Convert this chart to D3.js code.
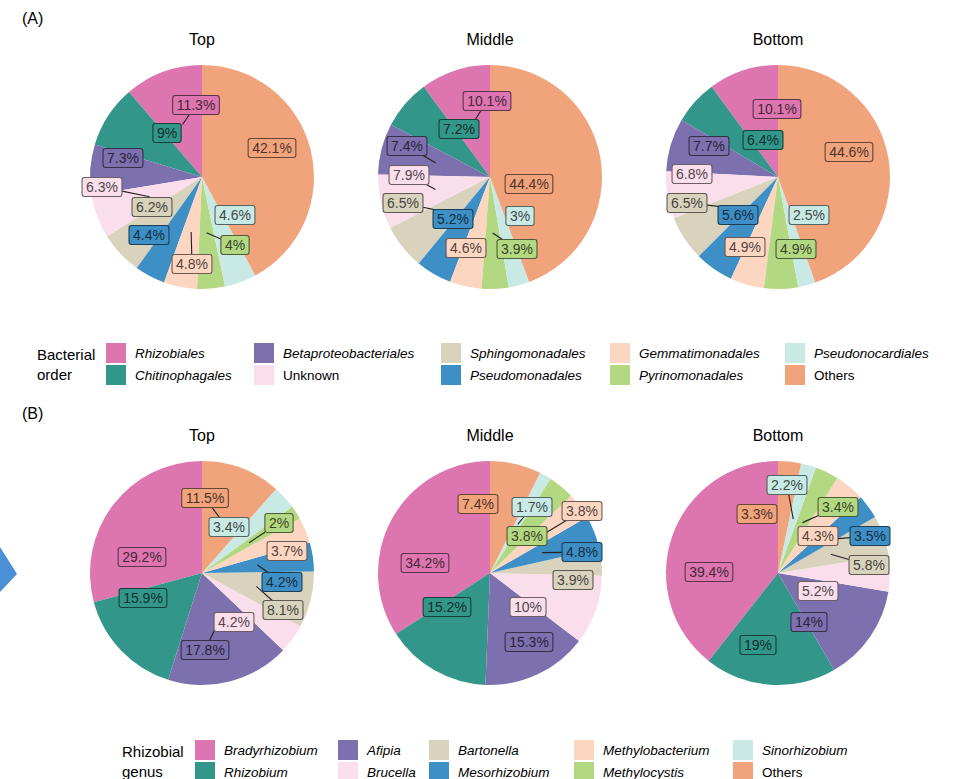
<html>

<head>
    <script src="https://d3js.org/d3.v7.min.js"></script>
    <style>
        body {
            margin: 0;
            background: #fff;
        }

        text {
            font-family: "Liberation Sans", Arial, sans-serif;
        }
    </style>
</head>

<body>
    <svg height="779" width="954" id="pieSvg"></svg>
    <script>
        // categories
        const orders = ["Rhizobiales", "Chitinophagales", "Betaproteobacteriales", "Unknown", "Sphingomonadales",
            "Pseudomonadales", "Gemmatimonadales", "Pyrinomonadales", "Pseudonocardiales", "Others"];
        const genera = ["Bradyrhizobium", "Rhizobium", "Afipia", "Brucella", "Bartonella",
            "Mesorhizobium", "Methylobacterium", "Methylocystis", "Sinorhizobium", "Others"];
        const positions = ["Top", "Middle", "Bottom"];

        // percentages, same order as categories
        const orderTop = [11.3, 9, 7.3, 6.3, 6.2, 4.4, 4.8, 4, 4.6, 42.1];
        const orderMiddle = [10.1, 7.2, 7.4, 7.9, 6.5, 5.2, 4.6, 3.9, 3, 44.4];
        const orderBottom = [10.1, 6.4, 7.7, 6.8, 6.5, 5.6, 4.9, 4.9, 2.5, 44.6];
        const genusTop = [29.2, 15.9, 17.8, 4.2, 8.1, 4.2, 3.7, 2, 3.4, 11.5];
        const genusMiddle = [34.2, 15.2, 15.3, 10, 3.9, 4.8, 3.8, 3.8, 1.7, 7.4];
        const genusBottom = [39.4, 19, 14, 5.2, 5.8, 3.5, 4.3, 3.4, 2.2, 3.3];

        const palette = ["#dd76b0", "#33968a", "#7d70ae", "#fbdeec", "#d9d3bd",
            "#3d8fc6", "#fdd6c2", "#b3d882", "#c8e9e4", "#f1a37c"];

        // repelled label placement (px offset from pie centre)
        const orderNudge = [
            [[-6, -72], [-35, -44], [-79, -19], [-100, 10], [-50, 30], [-53, 58], [-10, 87], [33, 68], [33, 38], [70, -29]],
            [[-3, -76], [-31, -48], [-83, -31], [-81, -2], [-87, 26], [-37, 42], [-24, 71], [27, 72], [30, 39], [39, 7]],
            [[-1, -68], [-15, -37], [-69, -31], [-86, -3], [-91, 26], [-40, 38], [-33, 70], [18, 72], [31, 38], [71, -25]]
        ];
        const genusNudge = [
            [[-60, -16], [-59, 25], [3, 77], [32, 49], [81, 37], [80, 9], [85, -22], [77, -50], [27, -46], [3, -75]],
            [[-65, -10], [-43, 34], [39, 69], [38, 34], [83, 7], [92, -21], [92, -62], [37, -37], [42, -66], [-12, -69]],
            [[-69, -1], [-20, 72], [31, 49], [40, 18], [91, -8], [92, -37], [40, -37], [60, -66], [9, -88], [-21, -59]]
        ];
        // which repelled labels keep a leader segment
        const orderSegments = [
            [1, 0, 0, 1, 0, 0, 1, 1, 0, 0],
            [1, 0, 1, 1, 1, 0, 0, 1, 0, 0],
            [0, 0, 0, 0, 1, 0, 0, 0, 0, 0]
        ];
        const genusSegments = [
            [0, 0, 1, 0, 1, 1, 0, 1, 0, 1],
            [0, 0, 0, 0, 0, 1, 1, 0, 1, 0],
            [0, 0, 0, 0, 1, 1, 0, 1, 1, 0]
        ];

        const svg = d3.select("#pieSvg");
        const radius = 112;
        const xScale = d3.scalePoint().domain(positions).range([202, 778]);

        const pie = d3.pie().sort(null).startAngle(0).endAngle(-2 * Math.PI);
        const arc = d3.arc().innerRadius(0).outerRadius(radius);
        const anchorArc = d3.arc().innerRadius(radius * 0.5).outerRadius(radius * 0.5);

        function drawPanel(cats, seriesList, nudges, segs, cy, letter, letterY, legendTitle, legendY, legendCols) {
            const colour = d3.scaleOrdinal().domain(cats).range(palette);

            svg.append("text")
                .attr("x", 22)
                .attr("y", letterY)
                .style("font-size", "16px")
                .text(letter);

            seriesList.forEach((values, i) => {
                const cx = xScale(positions[i]);
                const data = cats.map((c, j) => ({ cat: c, value: values[j] }));
                const g = svg.append("g").attr("transform", `translate(${cx},${cy})`);

                svg.append("text")
                    .attr("x", cx)
                    .attr("y", cy - 132)
                    .attr("text-anchor", "middle")
                    .style("font-size", "16px")
                    .text(positions[i]);

                const arcs = pie.value(d => d.value)(data);
                g.selectAll("path").data(arcs)
                    .join("path")
                    .attr("d", arc)
                    .attr("fill", d => colour(d.data.cat));

                const lineLayer = g.append("g");

                // labels
                arcs.forEach((a, j) => {
                    const fill = d3.color(colour(a.data.cat));
                    const [ax, ay] = anchorArc.centroid(a);
                    const [lx, ly] = nudges[i][j];
                    const lab = g.append("g");
                    const rect = lab.append("rect");
                    const txt = lab.append("text")
                        .attr("x", lx)
                        .attr("y", ly + 5)
                        .attr("text-anchor", "middle")
                        .style("font-size", "14px")
                        .style("fill", fill.darker(3.2))
                        .text(a.data.value + "%");
                    const w = txt.node().getComputedTextLength() + 8;
                    const h = 19;
                    const x0 = lx - w / 2, y0 = ly - h / 2;
                    rect.attr("x", x0).attr("y", y0)
                        .attr("width", w).attr("height", h)
                        .attr("rx", 2.5)
                        .attr("fill", fill)
                        .attr("stroke", fill.darker(2.4))
                        .attr("stroke-width", 1.1);

                    // segment from slice point toward the label centre, stopping at the box edge
                    if (segs[i][j]) {
                        const dx = lx - ax, dy = ly - ay;
                        const tx = dx === 0 ? Infinity : (Math.abs(dx) - w / 2) / Math.abs(dx);
                        const ty = dy === 0 ? Infinity : (Math.abs(dy) - h / 2) / Math.abs(dy);
                        let t = Math.min(tx < 0 ? Infinity : tx, ty < 0 ? Infinity : ty);
                        t = Math.max(0, Math.min(1, Math.max(tx, ty)));
                        lineLayer.append("line")
                            .attr("x1", ax).attr("y1", ay)
                            .attr("x2", ax + dx * t).attr("y2", ay + dy * t)
                            .attr("stroke", "#222")
                            .attr("stroke-width", 1.1);
                    }
                });
            });

            // legend
            const lg = svg.append("g");
            lg.append("text")
                .attr("x", legendCols.titleX)
                .attr("y", legendY + 17)
                .style("font-size", "15px")
                .selectAll("tspan").data(legendTitle)
                .join("tspan")
                .attr("x", legendCols.titleX)
                .attr("dy", (d, k) => k === 0 ? 0 : 20)
                .text(d => d);

            cats.forEach((c, j) => {
                const col = Math.floor(j / 2), row = j % 2;
                const kx = legendCols.keys[col];
                const ky = legendY + row * 22;
                lg.append("rect")
                    .attr("x", kx).attr("y", ky)
                    .attr("width", 20).attr("height", 20)
                    .attr("fill", colour(c));
                lg.append("text")
                    .attr("x", kx + 29)
                    .attr("y", ky + 15)
                    .style("font-size", "13.5px")
                    .style("font-style", c === "Unknown" || c === "Others" ? "normal" : "italic")
                    .text(c);
            });
        }

        drawPanel(orders, [orderTop, orderMiddle, orderBottom], orderNudge, orderSegments, 177, "(A)", 24,
            ["Bacterial", "order"], 343, { titleX: 37, keys: [106, 254, 441, 610, 785] });
        drawPanel(genera, [genusTop, genusMiddle, genusBottom], genusNudge, genusSegments, 573, "(B)", 419,
            ["Rhizobial", "genus"], 740, { titleX: 122, keys: [195, 338, 429, 574, 733] });

        // fragment of arrow at the left border
        svg.append("path")
            .attr("d", "M0,547 L17,574 L0,592 Z")
            .attr("fill", "#4b8fd6");
    </script>
</body>

</html>
